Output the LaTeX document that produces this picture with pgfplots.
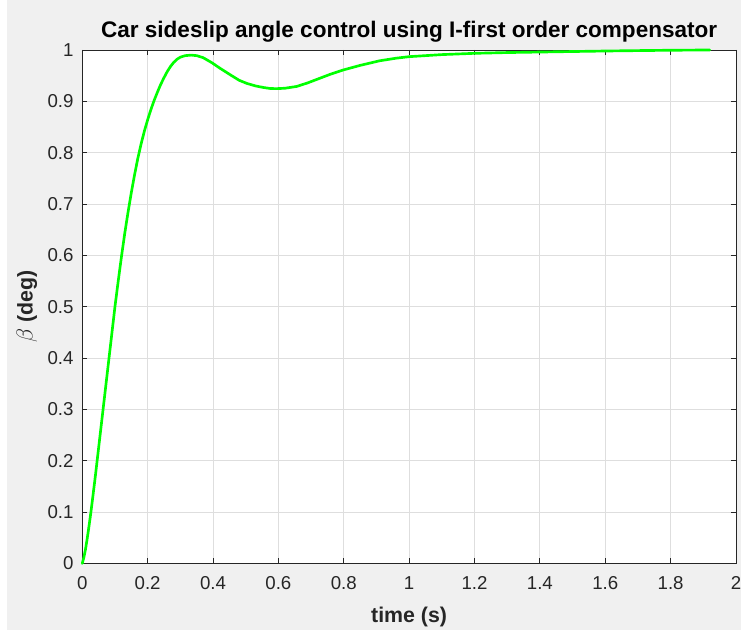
\documentclass[border=0pt]{standalone}
\usepackage{fontspec}
\setmainfont{Liberation Sans}
\usepackage{pgfplots}
\pgfplotsset{compat=1.18}
\definecolor{figbg}{RGB}{240,240,240}
\definecolor{axc}{RGB}{38,38,38}
\definecolor{gridc}{RGB}{222,222,222}
\definecolor{lineg}{RGB}{0,255,0}
\begin{document}
\begin{tikzpicture}
\fill[white] (0,0) rectangle (555.75pt,472.5pt);
\fill[figbg] (5.25pt,0) rectangle (555.75pt,472.5pt);
\begin{axis}[
  at={(61.7pt,49.9pt)}, anchor=south west,
  scale only axis, width=490.3pt, height=385.1pt,
  xmin=0, xmax=2, ymin=0, ymax=1,
  xtick={0,0.2,0.4,0.6,0.8,1,1.2,1.4,1.6,1.8,2},
  xticklabels={0,0.2,0.4,0.6,0.8,1,1.2,1.4,1.6,1.8,2},
  ytick={0,0.1,0.2,0.3,0.4,0.5,0.6,0.7,0.8,0.9,1},
  yticklabels={0,0.1,0.2,0.3,0.4,0.5,0.6,0.7,0.8,0.9,1},
  scaled ticks=false,
  axis background/.style={fill=white},
  grid=major, major grid style={draw=gridc, line width=0.6pt},
  axis line style={draw=axc, line width=0.6pt},
  tick style={draw=axc, line width=0.6pt},
  tick align=inside, major tick length=3.75pt,
  xtick pos=both, ytick pos=both,
  ticklabel style={font=\fontsize{14}{16}\selectfont, text=axc},
  xticklabel style={yshift=-6.5pt},
  yticklabel style={xshift=-3pt},
  title={Car sideslip angle control using I-first order compensator},
  title style={font=\fontsize{16.9}{19}\selectfont\bfseries, text=black, at={(axis description cs:0.5,1.0085)}, anchor=base},
  xlabel={time (s)},
  ylabel={$\beta$ (deg)},
  xlabel style={font=\fontsize{16}{19}\selectfont\bfseries, text=axc, at={(axis description cs:0.5,-0.1158)}, anchor=base},
  ylabel style={font=\fontsize{16}{19}\selectfont\bfseries, text=axc, at={(axis description cs:-0.0846,0.5)}, anchor=center},
  clip=false,
]
\addplot[lineg, line width=2pt, line join=round, line cap=round] coordinates {
(0,0) (0.005,0.012) (0.01,0.028) (0.015,0.048) (0.02,0.07) (0.025,0.093)
(0.03,0.118) (0.04,0.17) (0.05,0.225) (0.06,0.28) (0.07,0.335) (0.08,0.39)
(0.09,0.445) (0.100,0.5) (0.110,0.55) (0.120,0.598) (0.130,0.643)
(0.140,0.684) (0.150,0.722) (0.160,0.757) (0.170,0.789) (0.180,0.817)
(0.190,0.842) (0.200,0.864) (0.210,0.884) (0.220,0.902) (0.230,0.918)
(0.240,0.933) (0.250,0.946) (0.260,0.958) (0.270,0.968) (0.280,0.976)
(0.290,0.982) (0.300,0.986) (0.315,0.989) (0.333,0.990) (0.350,0.989)
(0.370,0.985) (0.397,0.975) (0.420,0.965) (0.452,0.952) (0.480,0.941)
(0.503,0.935) (0.530,0.930) (0.554,0.927) (0.575,0.925) (0.594,0.9247)
(0.620,0.9255) (0.656,0.929) (0.690,0.936) (0.727,0.945) (0.760,0.953)
(0.798,0.961) (0.850,0.970) (0.910,0.979) (0.960,0.984) (1.0,0.987)
(1.1,0.991) (1.2,0.9935) (1.3,0.995) (1.4,0.996) (1.5,0.997) (1.6,0.998)
(1.7,0.9988) (1.8,0.9995) (1.92,1.0)
};
\end{axis}
\pgfresetboundingbox
\useasboundingbox (0,0) rectangle (555.75pt,472.5pt);
\end{tikzpicture}
\end{document}
